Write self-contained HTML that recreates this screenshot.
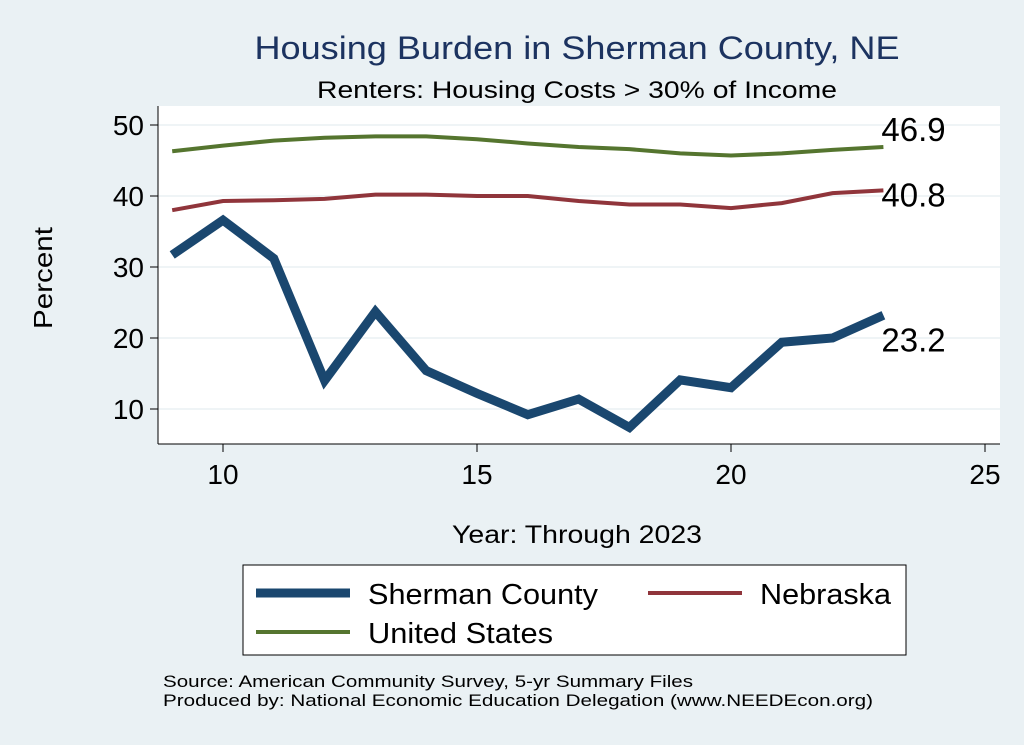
<!DOCTYPE html>
<html><head><meta charset="utf-8"><style>
body{margin:0;background:#eaf1f4;}
svg{display:block;font-family:"Liberation Sans",Arial,sans-serif;}
</style></head><body>
<svg id="chart" width="1024" height="745" viewBox="0 0 1024 745">
<rect x="0" y="0" width="1024" height="745" fill="#eaf1f4"/>
<rect x="158" y="106" width="842" height="338" fill="#ffffff"/>
<text x="577" y="59" text-anchor="middle" font-size="32" textLength="645" lengthAdjust="spacingAndGlyphs" fill="#1c3360">Housing Burden in Sherman County, NE</text>
<text x="577" y="98" text-anchor="middle" font-size="24" textLength="520" lengthAdjust="spacingAndGlyphs" fill="#000">Renters: Housing Costs &gt; 30% of Income</text>
<g id="grid"></g><g id="axes"></g><g id="series"></g>
<text x="52" y="278" text-anchor="middle" font-size="26" textLength="102" lengthAdjust="spacingAndGlyphs" transform="rotate(-90 52 278)">Percent</text>
<text x="577" y="543" text-anchor="middle" font-size="25" textLength="250" lengthAdjust="spacingAndGlyphs">Year: Through 2023</text>
<g>
<rect x="243" y="565" width="663" height="90" fill="#fff" stroke="#000" stroke-width="1"/>
<line x1="256" y1="593" x2="350" y2="593" stroke="#1a476f" stroke-width="9"/>
<text x="368" y="604" font-size="29" textLength="230" lengthAdjust="spacingAndGlyphs">Sherman County</text>
<line x1="648" y1="593" x2="742" y2="593" stroke="#90353b" stroke-width="4"/>
<text x="760" y="604" font-size="29" textLength="131" lengthAdjust="spacingAndGlyphs">Nebraska</text>
<line x1="256" y1="632" x2="350" y2="632" stroke="#55752f" stroke-width="4"/>
<text x="368" y="643" font-size="29" textLength="185" lengthAdjust="spacingAndGlyphs">United States</text>
</g>
<text x="163" y="687" font-size="17" textLength="530" lengthAdjust="spacingAndGlyphs">Source: American Community Survey, 5-yr Summary Files</text>
<text x="163" y="706" font-size="17" textLength="710" lengthAdjust="spacingAndGlyphs">Produced by: National Economic Education Delegation (www.NEEDEcon.org)</text>
</svg>
<script>
const years=[9,10,11,12,13,14,15,16,17,18,19,20,21,22,23];
const sherman=[31.7,36.6,31.2,14.0,23.7,15.4,12.2,9.2,11.4,7.4,14.1,13.0,19.4,20.0,23.2];
const nebraska=[38.0,39.3,39.4,39.6,40.2,40.2,40.0,40.0,39.3,38.8,38.8,38.3,39.0,40.4,40.8];
const us=[46.3,47.1,47.8,48.2,48.4,48.4,48.0,47.4,46.9,46.6,46.0,45.7,46.0,46.5,46.9];
const yTicks=[10,20,30,40,50];
const xTicks=[10,15,20,25];
const X=v=>223+(v-10)*50.8;
const Y=v=>125+(50-v)*7.1;
const NS="http://www.w3.org/2000/svg";
function mk(tag,attrs,parent,txt){const e=document.createElementNS(NS,tag);for(const k in attrs)e.setAttribute(k,attrs[k]);if(txt!==undefined)e.textContent=txt;document.getElementById(parent).appendChild(e);return e;}
yTicks.forEach(t=>{
 const g=mk('line',{x1:158,x2:1000,y1:Y(t),y2:Y(t),stroke:'#eaf1f4','stroke-width':1.5},'grid');
 
 
 const tk=mk('line',{x1:150,x2:158,y1:Y(t),y2:Y(t),stroke:'#000'},'axes');
 
 
 const l=mk('text',{x:144,y:Y(t)+10,'text-anchor':'end','font-size':28},'axes',t);
 
 
});
xTicks.forEach(t=>{
 const tk=mk('line',{x1:X(t),x2:X(t),y1:444,y2:452,stroke:'#000'},'axes');
 
 
 const l=mk('text',{x:X(t),y:484,'text-anchor':'middle','font-size':28},'axes',t);
 
 
});
const ya=mk('line',{x1:158,x2:158,y1:106,y2:444,stroke:'#000'},'axes');


const xa=mk('line',{x1:158,x2:1000,y1:444,y2:444,stroke:'#000'},'axes');


function series(vals,color,w,name,labDy){
 const p=mk('polyline',{points:years.map((y,i)=>X(y)+','+Y(vals[i])).join(' '),fill:'none',stroke:color,'stroke-width':w,'stroke-linejoin':'miter'},'series');
 
 
 const last=vals[vals.length-1];
 const l=mk('text',{x:X(years[years.length-1])-2,y:Y(last)+labDy,'font-size':33},'series',last.toFixed(1));
 
 
}
series(us,'#55752f',4,'us',-6);
series(nebraska,'#90353b',4,'nebraska',16);
series(sherman,'#1a476f',9,'sherman',36);
</script>
</body></html>
